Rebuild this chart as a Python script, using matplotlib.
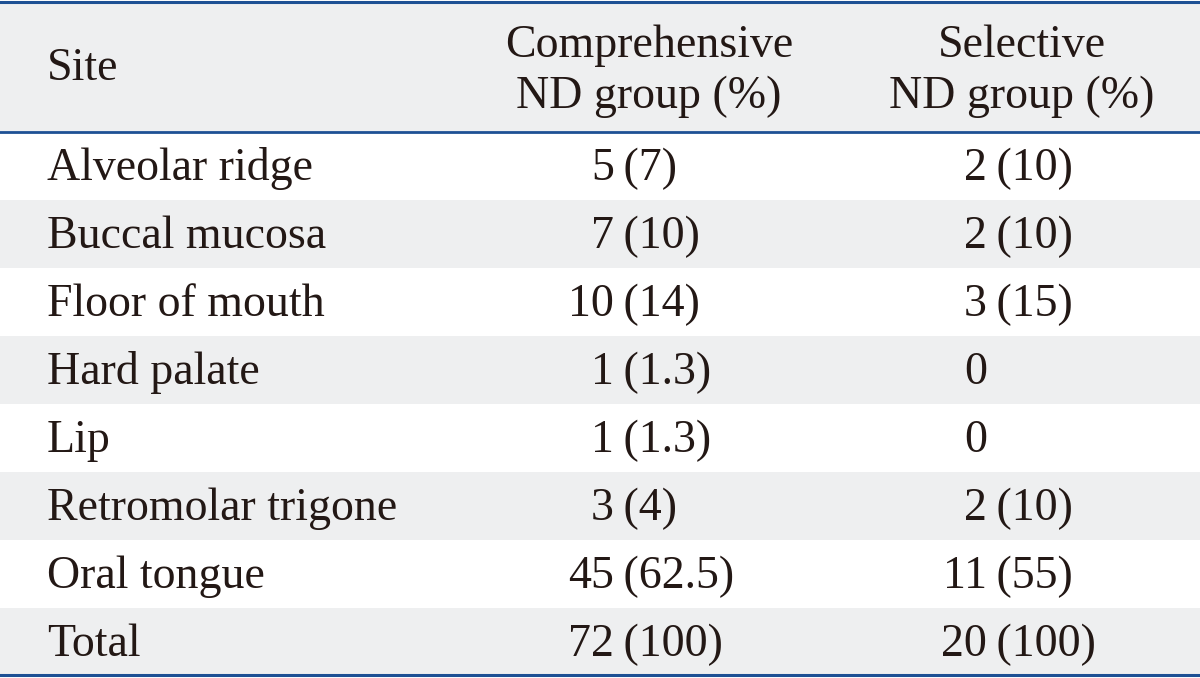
import matplotlib
matplotlib.use("Agg")
import matplotlib.pyplot as plt

# table data
sites = ["Alveolar ridge", "Buccal mucosa", "Floor of mouth", "Hard palate",
         "Lip", "Retromolar trigone", "Oral tongue", "Total"]
comp_n = ["5", "7", "10", "1", "1", "3", "45", "72"]
comp_pct = ["7", "10", "14", "1.3", "1.3", "4", "62.5", "100"]
sel_n = ["2", "2", "3", "0", "0", "2", "11", "20"]
sel_pct = ["10", "10", "15", "", "", "10", "55", "100"]
headers = ["Site", "Comprehensive\nND group (%)", "Selective\nND group (%)"]

plt.rcParams['font.family'] = ['Liberation Serif', 'DejaVu Serif']
blue = "#1d5094"
gray = "#eeeff0"
txt = "#231815"
fs = 33

fig = plt.figure(figsize=(12, 6.78), dpi=100)
ax = fig.add_axes([0, 0, 1, 1])
ax.set_xlim(0, 1200)
ax.set_ylim(678, 0)
ax.axis("off")

head_top, head_bot = 2, 132
row_h = 68

# header band
ax.axhspan(head_top, head_bot, color=gray, lw=0)
ax.text(47, (head_top + head_bot) / 2 + 2, headers[0], fontsize=fs, color=txt,
        ha="left", va="center")
ax.text(649, (head_top + head_bot) / 2 + 4, headers[1], fontsize=fs, color=txt,
        ha="center", va="center", linespacing=1.25)
ax.text(1022, (head_top + head_bot) / 2 + 4, headers[2], fontsize=fs, color=txt,
        ha="center", va="center", linespacing=1.25)

# body rows
for i, site in enumerate(sites):
    y0 = head_bot + i * row_h
    yc = y0 + row_h / 2 + 3
    if i % 2 == 1:
        ax.axhspan(y0, y0 + row_h, color=gray, lw=0)
    ax.text(47, yc, site, fontsize=fs, color=txt, ha="left", va="center")
    ax.text(614, yc, comp_n[i], fontsize=fs, color=txt, ha="right", va="center")
    ax.text(612, yc, " (" + comp_pct[i] + ")", fontsize=fs, color=txt,
            ha="left", va="center")
    ax.text(987, yc, sel_n[i], fontsize=fs, color=txt, ha="right", va="center")
    if sel_pct[i]:
        ax.text(985, yc, " (" + sel_pct[i] + ")", fontsize=fs, color=txt,
                ha="left", va="center")

# rules
ax.axhline(head_top, color=blue, lw=2.2)
ax.axhline(head_bot, color=blue, lw=2.0)
ax.axhline(head_bot + len(sites) * row_h - 1, color=blue, lw=2.2)

fig.savefig("out.png", dpi=100)
